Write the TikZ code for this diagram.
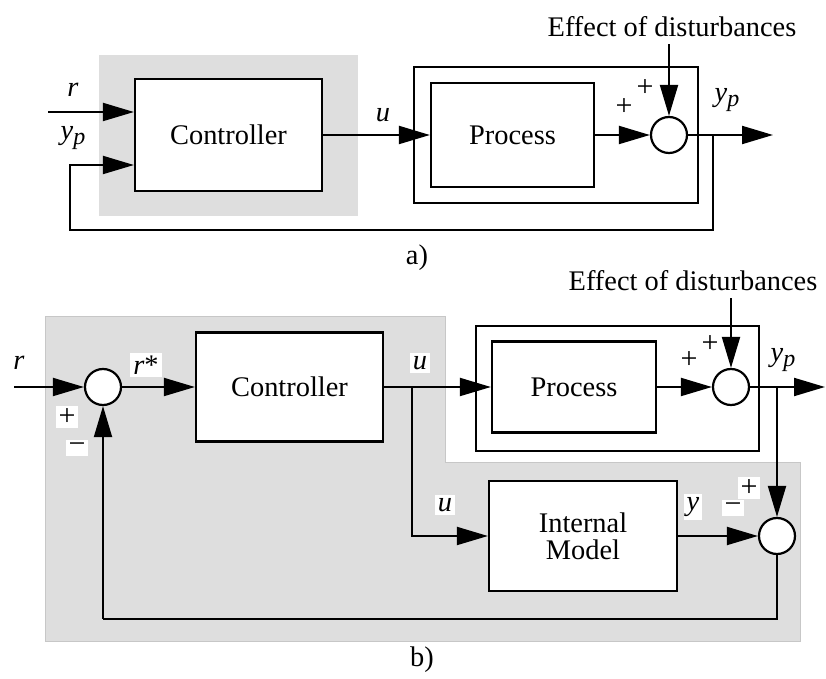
\documentclass[tikz,border=0pt]{standalone}
\usepackage{fontspec}
\setmainfont{Liberation Serif}
\usepackage{tikz}
\usetikzlibrary{arrows.meta, positioning}
\definecolor{panel}{gray}{0.87}
\definecolor{paneledge}{gray}{0.78}
\newcommand{\ypout}{\textit{y}\raisebox{-0.35ex}{\fontsize{12pt}{13pt}\selectfont\textit{p}}}

\begin{document}
\begin{tikzpicture} [x = 0.5pt, y = -0.5pt, font = \fontsize{14.2pt}{17pt}\selectfont,
	block/.style = {draw, line width = 1.1pt, fill = white, rectangle, inner sep = 0pt},
	frame/.style = {draw, line width = 1.1pt, rectangle, inner sep = 0pt},
	sum/.style = {draw, line width = 1.1pt, fill = white, circle, minimum size = 18pt, inner sep = 0pt},
	tag/.style = {fill = white, inner sep = 1.5pt},
	sign/.style = {font = \fontsize{15pt}{17pt}\selectfont, inner sep = 1.5pt},
	arr/.style = {-{Triangle[length = 15.5pt, width = 9pt]}, line width = 1pt}]
			\useasboundingbox (0,0) rectangle (826,679);

			% a) : shaded controller
			\fill [panel] (99,55) rectangle (358,216);

			\node (ctrlA) [block, minimum width = 93.5pt, minimum height = 56pt] at (228.5,135) {Controller};
			\node (outerA) [frame, minimum width = 142pt, minimum height = 68pt] at (556,135) {};
			\node (procA) [block, minimum width = 81.5pt, minimum height = 52pt] at (512.5,135) {Process};
			\node (sumA) [sum] at (669,135) {};
			\node (distA) at (672,27) {Effect of disturbances};

			\coordinate (rinA) at (48,112);
			\coordinate (brA) at (713,135);
			\coordinate (fbA) at (70,230);
			\coordinate (outA) at (773,135);

			% Labels
			\node (rA) at (73,90) {\textit{r}};
			\node (ypinA) at (73,138) {\ypout};
			\node (uA) at (383,115) {\textit{u}};
			\node (plusA1) [sign] at (645,88) {+};
			\node (plusA2) [sign] at (624,107) {+};
			\node (ypA) at (727,100) {\ypout};
			\node (capA) at (417,258) {a)};

			% Draw Arrows/Connections
			\path [arr]
			(rinA) edge (ctrlA.west |- rinA)
			(ctrlA) edge (procA)
			(procA) edge (sumA)
			(distA.south -| sumA) edge (sumA)
			(sumA) edge (outA);
			% feedback of y_p
			\draw [arr] (brA) |- (fbA) |- ([yshift = -15pt]ctrlA.west);

			% b) : shaded IMC structure
			\filldraw [fill = panel, draw = paneledge, line width = 0.5pt]
			(45,317) -- (445,317) -- (445,463) -- (800,463) -- (800,642) -- (45,642) -- cycle;

			\node (sumB1) [sum] at (103,387) {};
			\node (ctrlB) [block, minimum width = 93.5pt, minimum height = 54.5pt] at (289.5,387) {Controller};
			\node (outerB) [frame, minimum width = 141.5pt, minimum height = 62.5pt] at (617.5,388.5) {};
			\node (procB) [block, minimum width = 82pt, minimum height = 45.5pt] at (574,387) {Process};
			\node (sumB2) [sum] at (731,387) {};
			\node (distB) at (693,281) {Effect of disturbances};
			\node (modelB) [block, minimum width = 94pt, minimum height = 55pt, align = center,
			font = \fontsize{14.2pt}{13.5pt}\selectfont] at (583,536) {Internal\\Model};
			\node (sumB3) [sum] at (777,536) {};

			\coordinate (rinB) at (14,387);
			\coordinate (brB1) at (412,387);
			\coordinate (brB2) at (777,387);
			\coordinate (outB) at (825,387);
			\coordinate (fbB) at (103,619);

			% Labels
			\node (rB) at (19,363) {\textit{r}};
			\node (plusB1) [sign, tag] at (67,417) {+};
			\node (minusB1) [sign, tag] at (77,448) {−};
			\node (rstarB) [tag] at (146,365) {\textit{r}*};
			\node (uB1) [tag] at (420,363) {\textit{u}};
			\node (uB2) [tag] at (445,505) {\textit{u}};
			\node (yB) [tag] at (693,507) {\textit{y}};
			\node (minusB3) [sign, tag] at (733,508) {−};
			\node (plusB3) [sign, tag] at (749,488) {+};
			\node (plusB2a) [sign] at (689,360) {+};
			\node (plusB2b) [sign] at (710,344) {+};
			\node (ypB) at (783,360) {\ypout};
			\node (capB) at (422,660) {b)};

			% Draw Arrows/Connections
			\path [arr]
			(rinB) edge (sumB1)
			(sumB1) edge (ctrlB)
			(ctrlB) edge (procB)
			(procB) edge (sumB2)
			(distB.south -| sumB2) edge (sumB2)
			(sumB2) edge (outB)
			(brB2) edge (sumB3)
			(modelB) edge (sumB3)
			(fbB) edge (sumB1);
			% u to the model, error back to the first sum
			\draw [arr] (brB1) |- (modelB.west);
			\draw [line width = 1pt] (sumB3.south) |- (fbB);
		\end{tikzpicture}
\end{document}
